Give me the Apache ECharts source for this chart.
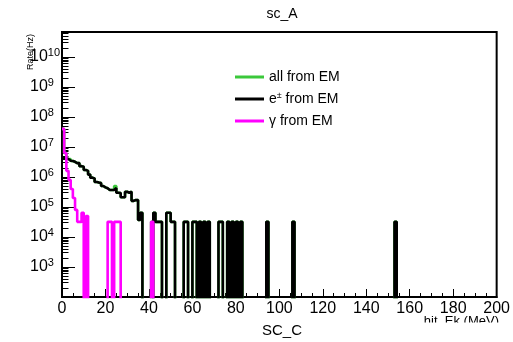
<!DOCTYPE html>
<html><head><meta charset="utf-8">
<script src="https://cdn.jsdelivr.net/npm/echarts@6/dist/echarts.min.js"></script>
<style>html,body{margin:0;padding:0;background:#fff}#c{width:513px;height:342px}</style>
</head><body><div id="c"></div>
<script>
const FONT = "'Liberation Sans Narrow','Liberation Sans',Arial,sans-serif";

// ---- data (bin low edges in MeV, 1 MeV bins, rate in Hz) ----
const seriesNames = ['all from EM', 'e\u00b1 from EM', '\u03b3 from EM'];
const nBins = 200;
const binWidth = 1;

const eBins = [0,1,2,3,4,5,6,7,8,9,10,11,12,13,14,15,16,17,18,19,20,21,22,23,24,25,26,27,28,29,30,31,32,33,34,35,36,
               42,43,44,45,48,49,50,51,56,57,60,61,63,65,67,72,73,76,78,80,82,94,106,153];
const eVals = [4.3e6,4.2e6,4.0e6,3.5e6,3.4e6,3.2e6,2.9e6,2.9e6,2.3e6,2.2e6,1.7e6,1.6e6,1.2e6,9.5e5,9.0e5,6.8e5,6.5e5,
               6.3e5,5.0e5,4.5e5,4.2e5,3.7e5,3.7e5,3.7e5,4.3e5,3.0e5,2.9e5,2.1e5,2.1e5,3.2e5,3.0e5,3.2e5,1.6e5,1.7e5,1.7e5,3.7e4,6.4e4,
               6.4e4,3.2e4,3.2e4,3.2e4,6.4e4,6.4e4,3.2e4,3.2e4,3.2e4,3.2e4,3.2e4,3.2e4,3.2e4,3.2e4,3.2e4,3.2e4,3.2e4,3.2e4,3.2e4,3.2e4,3.2e4,3.2e4,3.2e4,3.2e4];

const gBins = [0,1,2,3,4,5,6,7,8,9,10,11,12,13,14,15,16,17,18,19,20,21,22,23,24,25,26,27,28,29,30,31,32,33,34,35,36,
               41,42,43,44,45,48,49,50,51,56,57,60,61,63,65,67,72,73,76,78,80,82,94,106,153];
const gVals = [4.0e7,6.3e6,4.0e6,4.0e6,3.4e6,3.2e6,2.9e6,2.9e6,2.3e6,2.2e6,1.7e6,1.6e6,1.2e6,9.5e5,9.0e5,6.8e5,6.5e5,
               6.3e5,5.0e5,4.5e5,4.2e5,3.7e5,3.7e5,3.7e5,5.0e5,3.0e5,2.9e5,2.1e5,2.1e5,3.2e5,3.0e5,3.2e5,1.6e5,1.7e5,1.7e5,3.7e4,6.4e4,
               3.2e4,6.4e4,3.2e4,3.2e4,3.2e4,6.4e4,6.4e4,3.2e4,3.2e4,3.2e4,3.2e4,3.2e4,3.2e4,3.2e4,3.2e4,3.2e4,3.2e4,3.2e4,3.2e4,3.2e4,3.2e4,3.2e4,3.2e4,3.2e4,3.2e4];

const gamBins = [0,1,2,3,4,5,6,7,8,9,11,21,22,24,25,26,41];
const gamVals = [4.0e7,6.3e6,1.6e6,8.0e5,4.0e5,2.0e5,8.0e4,3.2e4,3.2e4,6.4e4,5.0e4,3.2e4,3.2e4,3.2e4,3.2e4,3.2e4,3.2e4];

const xTickLabels = [0,20,40,60,80,100,120,140,160,180,200];
const yDecades = [3,4,5,6,7,8,9,10];

// ---- helpers ----
const FLOOR = 1; // zero bins drawn below the frame (log scale)
function hist(bins, vals) {
  const dense = new Array(nBins).fill(0);
  bins.forEach((b, i) => { dense[b] = vals[i]; });
  const pts = dense.map((v, i) => [i * binWidth, v > 0 ? v : FLOOR]);
  pts.push([nBins * binWidth, FLOOR]);
  return pts;
}
const yMin = 100, yMax = 6.8e10;
const majorVals = yDecades.map(d => Math.pow(10, d));
const minorVals = [];
for (let d = 2; d <= 10; d++) for (let k = 2; k <= 9; k++) {
  const v = k * Math.pow(10, d); if (v < yMax) minorVals.push(v);
}

const chart = echarts.init(document.getElementById('c'), null, {renderer: 'canvas'});
const colors = ['#3bc83b', '#000000', '#ff00ff'];
const LW = 2.6;
const baseY = {
  type: 'log', logBase: 10, min: yMin, max: yMax, position: 'left',
  splitLine: {show: false}, splitNumber: 10
};
chart.setOption({
  animation: false,
  backgroundColor: '#fff',
  grid: {left: 62, right: 11, top: 32, bottom: 45, show: true, borderColor: '#000', borderWidth: 2, backgroundColor: 'transparent'},
  legend: {
    left: 230, top: 64, orient: 'vertical', itemWidth: 29, itemHeight: 3, itemGap: 6, icon: 'rect',
    data: seriesNames,
    textStyle: {fontFamily: FONT, fontSize: 14, color: '#000', lineHeight: 16,
      rich: {sup: {fontFamily: FONT, fontSize: 9, color: '#000', padding: [0, 0, 6, 0]}}},
    formatter: n => n.replace('\u00b1', '{sup|\u00b1}')
  },
  xAxis: {
    type: 'value', min: 0, max: 200, interval: 20,
    axisLine: {lineStyle: {color: '#000', width: 2}},
    axisTick: {inside: true, length: 8, lineStyle: {color: '#000', width: 1}},
    minorTick: {show: true, splitNumber: 4, length: 4, lineStyle: {color: '#000', width: 1}},
    splitLine: {show: false},
    axisLabel: {fontFamily: FONT, fontSize: 16, color: '#000', margin: 4,
      customValues: xTickLabels}
  },
  yAxis: [
    Object.assign({}, baseY, {
      axisLine: {lineStyle: {color: '#000', width: 2}},
      axisTick: {inside: true, length: 13, customValues: majorVals, lineStyle: {color: '#000', width: 1}},
      axisLabel: {
        customValues: majorVals, align: 'left', margin: 32, color: '#000',
        formatter: v => '{b|10}{s|' + Math.round(Math.log10(v)) + '}',
        rich: {
          b: {fontFamily: FONT, fontSize: 16, color: '#000'},
          s: {fontFamily: FONT, fontSize: 11, color: '#000', padding: [0, 0, 9, 0]}
        }
      }
    }),
    Object.assign({}, baseY, {
      axisLine: {show: false},
      axisTick: {inside: true, length: 6.5, customValues: minorVals, lineStyle: {color: '#000', width: 1}},
      axisLabel: {show: false}
    })
  ],
  series: [
    {name: seriesNames[0], type: 'line', step: 'end', symbol: 'none', data: hist(gBins, gVals),
      lineStyle: {color: colors[0], width: LW}, itemStyle: {color: colors[0]}, clip: true},
    {name: seriesNames[1], type: 'line', step: 'end', symbol: 'none', data: hist(eBins, eVals),
      lineStyle: {color: colors[1], width: LW}, itemStyle: {color: colors[1]}, clip: true},
    {name: seriesNames[2], type: 'line', step: 'end', symbol: 'none', data: hist(gamBins, gamVals),
      lineStyle: {color: colors[2], width: LW}, itemStyle: {color: colors[2]}, clip: true}
  ],
  graphic: [
    {type: 'text', x: 282, y: 14, style: {text: 'sc_A', font: '14px ' + FONT, fill: '#000', align: 'center', verticalAlign: 'middle'}},
    {type: 'text', x: 282, y: 331, style: {text: 'SC_C', font: '15px ' + FONT, fill: '#000', align: 'center', verticalAlign: 'middle'}},
    {type: 'text', x: 499, y: 315, style: {text: 'hit_Ek (MeV)', font: '13px ' + FONT, fill: '#000', align: 'right', verticalAlign: 'top'}},
    {type: 'rect', shape: {x: 410, y: 322.5, width: 103, height: 14}, style: {fill: '#fff'}, z: 100},
    {type: 'text', x: 31, y: 34, rotation: Math.PI / 2, style: {text: 'Rate(Hz)', font: '9px ' + FONT, fill: '#000', align: 'right', verticalAlign: 'middle'}}
  ]
});
</script>
</body></html>
